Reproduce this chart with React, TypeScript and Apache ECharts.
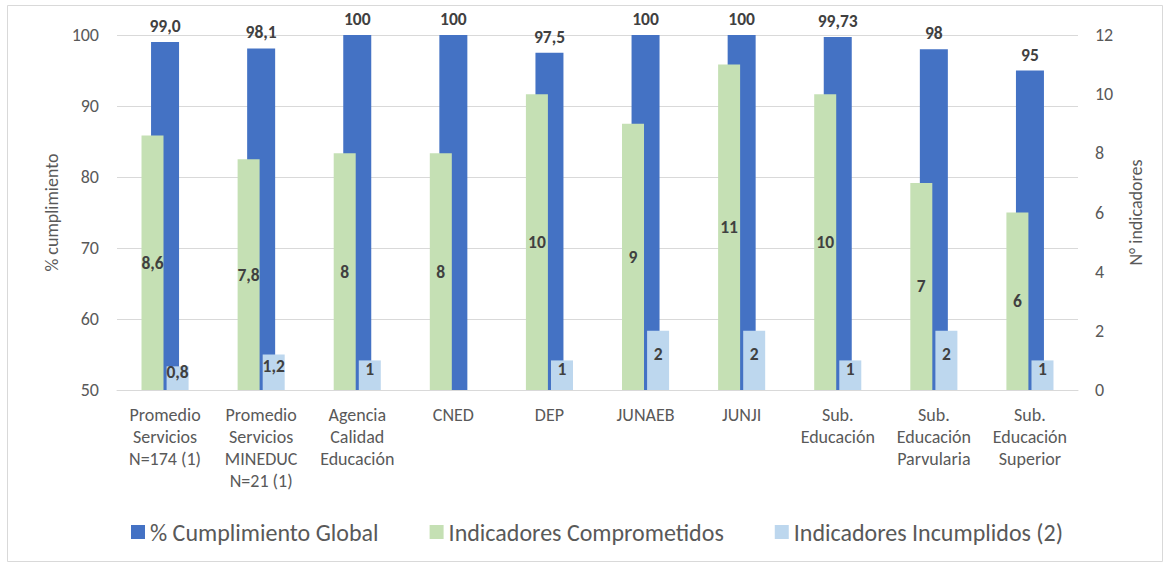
import React, { useEffect, useRef } from "react";
import * as echarts from "echarts";

const categories = [
  "Promedio\nServicios\nN=174 (1)",
  "Promedio\nServicios\nMINEDUC\nN=21 (1)",
  "Agencia\nCalidad\nEducación",
  "CNED",
  "DEP",
  "JUNAEB",
  "JUNJI",
  "Sub.\nEducación",
  "Sub.\nEducación\nParvularia",
  "Sub.\nEducación\nSuperior",
];

const cumplimientoGlobal = [99.0, 98.1, 100, 100, 97.5, 100, 100, 99.73, 98, 95];
const cumplimientoLabels = ["99,0", "98,1", "100", "100", "97,5", "100", "100", "99,73", "98", "95"];
const comprometidos = [8.6, 7.8, 8, 8, 10, 9, 11, 10, 7, 6];
const incumplidos: (number | null)[] = [0.8, 1.2, 1, null, 1, 2, 2, 1, 2, 1];

const leftTicks = { min: 50, max: 100, interval: 10 };
const rightTicks = { min: 0, max: 12, interval: 2 };

const FONT = "Carlito, Calibri, Lato, sans-serif";
const TXT = "#595959";
const LBL = "#404040";

const fmt = (v: number) => String(v).replace(".", ",");

export default function App() {
  const ref = useRef<HTMLDivElement>(null);
  useEffect(() => {
    if (!ref.current) return;
    const chart = echarts.init(ref.current, undefined, { renderer: "svg" });
    const labelStyle = {
      show: true,
      fontFamily: FONT,
      fontSize: 17.5,
      fontWeight: "bold" as const,
      color: LBL,
    };
    chart.setOption({
      animation: false,
      textStyle: { fontFamily: FONT },
      graphic: [
        {
          type: "rect",
          shape: { x: 7.5, y: 5.5, width: 1155, height: 556 },
          style: { fill: "none", stroke: "#d9d9d9", lineWidth: 1 },
          silent: true,
        },
      ],
      grid: { left: 117, right: 92, top: 35, bottom: 177 },
      legend: {
        left: 126,
        top: 515,
        itemWidth: 14,
        itemHeight: 14,
        itemGap: 51,
        icon: "rect",
        textStyle: { fontFamily: FONT, fontSize: 24, color: TXT },
        data: ["% Cumplimiento Global", "Indicadores Comprometidos", "Indicadores Incumplidos (2)"],
      },
      xAxis: [
        {
          type: "category",
          data: categories,
          axisLine: { show: true, lineStyle: { color: "#d9d9d9", width: 1 } },
          axisTick: { show: false },
          axisLabel: {
            interval: 0,
            color: TXT,
            fontFamily: FONT,
            fontSize: 18,
            lineHeight: 22,
            margin: 14,
          },
        },
        {
          type: "category",
          data: categories,
          show: false,
        },
      ],
      yAxis: [
        {
          type: "value",
          min: leftTicks.min,
          max: leftTicks.max,
          interval: leftTicks.interval,
          name: "% cumplimiento",
          nameLocation: "middle",
          nameRotate: 90,
          nameGap: 52,
          nameTextStyle: { color: TXT, fontFamily: FONT, fontSize: 18 },
          axisLine: { show: false },
          axisTick: { show: false },
          axisLabel: { color: TXT, fontFamily: FONT, fontSize: 18, margin: 18 },
          splitLine: { show: true, lineStyle: { color: "#d9d9d9", width: 1 } },
        },
        {
          type: "value",
          position: "right",
          min: rightTicks.min,
          max: rightTicks.max,
          interval: rightTicks.interval,
          name: "N° indicadores",
          nameLocation: "middle",
          nameRotate: 90,
          nameGap: 49,
          nameTextStyle: { color: TXT, fontFamily: FONT, fontSize: 18 },
          axisLine: { show: false },
          axisTick: { show: false },
          axisLabel: { color: TXT, fontFamily: FONT, fontSize: 18, margin: 17 },
          splitLine: { show: false },
        },
      ],
      series: [
        {
          name: "% Cumplimiento Global",
          type: "bar",
          xAxisIndex: 0,
          yAxisIndex: 0,
          data: cumplimientoGlobal,
          barWidth: 28,
          itemStyle: { color: "#4472C4" },
          label: {
            ...labelStyle,
            position: "top",
            distance: 7,
            formatter: (p: any) => cumplimientoLabels[p.dataIndex],
          },
          z: 1,
        },
        {
          name: "Indicadores Comprometidos",
          type: "bar",
          xAxisIndex: 1,
          yAxisIndex: 1,
          data: comprometidos,
          barWidth: 22,
          barGap: "14%",
          itemStyle: { color: "#C5E0B4" },
          label: {
            ...labelStyle,
            position: "inside",
            formatter: (p: any) => fmt(p.value),
          },
          z: 3,
        },
        {
          name: "Indicadores Incumplidos (2)",
          type: "bar",
          xAxisIndex: 1,
          yAxisIndex: 1,
          data: incumplidos,
          barWidth: 22,
          barGap: "14%",
          itemStyle: { color: "#BDD7EE" },
          label: {
            ...labelStyle,
            position: "inside",
            offset: [0, -6],
            formatter: (p: any) => (p.value == null ? "" : fmt(p.value)),
          },
          z: 3,
        },
      ],
    });
    return () => chart.dispose();
  }, []);
  return (
    <div
      ref={ref}
      style={{ position: "absolute", left: 0, top: 0, width: 1170, height: 567, background: "#fff" }}
    />
  );
}
